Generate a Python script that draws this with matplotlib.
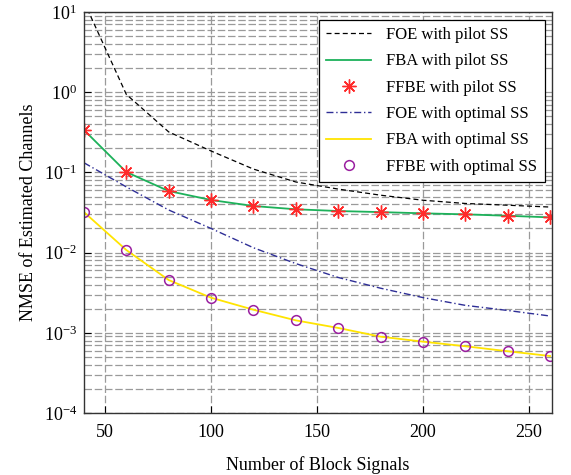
import matplotlib
matplotlib.use("Agg")
import matplotlib.pyplot as plt
import numpy as np
from matplotlib.ticker import LogLocator, NullFormatter

plt.rcParams['font.family'] = ['Liberation Serif', 'DejaVu Serif']
plt.rcParams['mathtext.fontset'] = 'custom'
plt.rcParams['mathtext.rm'] = 'Liberation Serif'
plt.rcParams['mathtext.it'] = 'Liberation Serif:italic'

x = [40, 60, 80, 100, 120, 140, 160, 180, 200, 220, 240, 260]
foe_pilot = [13.5, 0.94, 0.32, 0.185, 0.11, 0.076, 0.062, 0.052, 0.045, 0.041, 0.039, 0.037]
fba_pilot = [0.338, 0.101, 0.0586, 0.0453, 0.0381, 0.0347, 0.033, 0.032, 0.0309, 0.030, 0.0288, 0.0275]
ffbe_pilot = [0.338, 0.101, 0.0586, 0.0453, 0.0381, 0.0347, 0.033, 0.032, 0.0309, 0.030, 0.0288, 0.0275]
foe_opt = [0.132, 0.066, 0.034, 0.020, 0.0115, 0.0073, 0.0049, 0.0036, 0.00275, 0.0022, 0.0019, 0.00162]
fba_opt = [0.032, 0.01077, 0.00455, 0.00274, 0.00194, 0.00143, 0.00115, 0.000895, 0.000776, 0.00068, 0.000589, 0.000514]
ffbe_opt = [0.032, 0.01077, 0.00455, 0.00274, 0.00194, 0.00143, 0.00115, 0.000895, 0.000776, 0.00068, 0.000589, 0.000514]

fig = plt.figure(figsize=(5.71, 4.75), dpi=100)
ax = fig.add_axes([0.147, 0.1305, 0.82, 0.8442])

ax.plot(x, foe_pilot, color='black', ls=(0, (4, 2.5)), lw=0.9, label='FOE with pilot SS')
ax.plot(x, fba_pilot, color='#1db15a', lw=1.3, label='FBA with pilot SS')
ax.plot(x, ffbe_pilot, ls='none', marker=(8, 2, 0), ms=10, mew=1.0, color='#ff2a2a', label='FFBE with pilot SS')
ax.plot(x, foe_opt, color='#2e2e96', ls=(0, (5, 2, 1, 2)), lw=1.0, label='FOE with optimal SS')
ax.plot(x, fba_opt, color='#ffe400', lw=1.3, label='FBA with optimal SS')
ax.plot(x, ffbe_opt, ls='none', marker='o', ms=7, mfc='none', mec='#9a1fa0', mew=1.1, label='FFBE with optimal SS')

ax.set_yscale('log')
ax.set_xlim(40, 261)
ax.set_ylim(1e-4, 1e1)
ax.set_xticks([50, 100, 150, 200, 250])
ax.yaxis.set_major_locator(LogLocator(base=10, numticks=10))
ax.yaxis.set_minor_locator(LogLocator(base=10, subs=np.arange(2, 10), numticks=20))
ax.yaxis.set_minor_formatter(NullFormatter())
ax.grid(True, which='major', color='#9a9a9a', ls=(0, (6, 2.2)), lw=0.9)
ax.grid(True, which='minor', axis='y', color='#9a9a9a', ls=(0, (6, 2.2)), lw=0.9)
ax.tick_params(direction='in', which='both', labelsize=13, length=5, top=False, right=False)
ax.tick_params(axis='x', pad=8)
ax.tick_params(axis='y', pad=5)
ax.tick_params(which='minor', length=0)
for s in ax.spines.values():
    s.set_color('#333333')
    s.set_linewidth(1.0)

ax.set_xlabel('Number of Block Signals', fontsize=13, labelpad=11)
ax.set_ylabel('NMSE of Estimated Channels', fontsize=13, labelpad=5)

leg = ax.legend(loc='upper right', fontsize=12, frameon=True, fancybox=False,
                edgecolor='black', framealpha=1, borderaxespad=0.45,
                handlelength=2.7, labelspacing=0.62, borderpad=0.45, handletextpad=0.9)
leg.get_frame().set_linewidth(0.9)

fig.savefig('out.png', dpi=100)
